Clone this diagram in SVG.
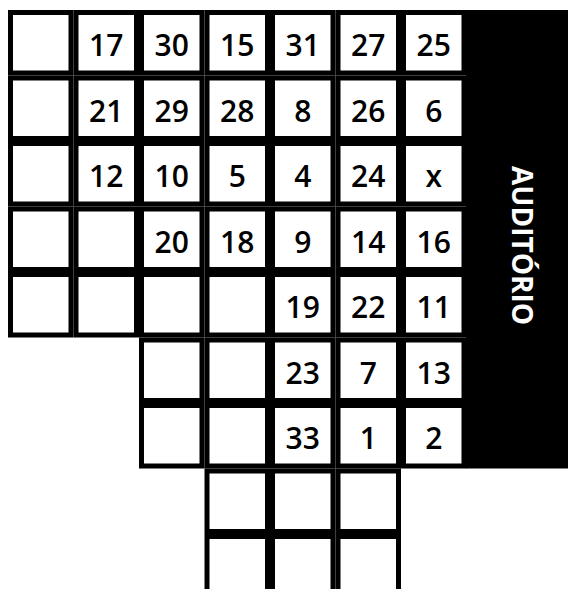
<svg xmlns="http://www.w3.org/2000/svg" width="568" height="589" viewBox="0 0 568 589">
<style>
.c{fill:#fff;stroke:#000;stroke-width:5}
.n{font-family:"Open Sans","Noto Sans",sans-serif;font-size:30px;font-weight:600;fill:#000;text-anchor:middle}
.a{font-family:"Open Sans","Noto Sans",sans-serif;font-size:28px;font-weight:700;fill:#fff;text-anchor:middle}
</style>
<rect x="0" y="0" width="568" height="589" fill="#fff"/>
<g id="auditorio">
<rect x="466" y="10" width="102" height="458.5" fill="#000"/>
<text class="a" transform="translate(512,245.5) rotate(90)">AUDITÓRIO</text>
</g>
<!-- row 0 -->
<g id="r0c0"><rect class="c" x="10.5" y="12.5" width="60.5" height="60.5"/></g>
<g id="r0c1"><rect class="c" x="76" y="12.5" width="60.5" height="60.5"/><text class="n" x="106.25" y="56">17</text></g>
<g id="r0c2"><rect class="c" x="141.5" y="12.5" width="60.5" height="60.5"/><text class="n" x="171.75" y="56">30</text></g>
<g id="r0c3"><rect class="c" x="207" y="12.5" width="60.5" height="60.5"/><text class="n" x="237.25" y="56">15</text></g>
<g id="r0c4"><rect class="c" x="272.5" y="12.5" width="60.5" height="60.5"/><text class="n" x="302.75" y="56">31</text></g>
<g id="r0c5"><rect class="c" x="338" y="12.5" width="60.5" height="60.5"/><text class="n" x="368.25" y="56">27</text></g>
<g id="r0c6"><rect class="c" x="403.5" y="12.5" width="60.5" height="60.5"/><text class="n" x="433.75" y="56">25</text></g>
<!-- row 1 -->
<g id="r1c0"><rect class="c" x="10.5" y="78" width="60.5" height="60.5"/></g>
<g id="r1c1"><rect class="c" x="76" y="78" width="60.5" height="60.5"/><text class="n" x="106.25" y="121.5">21</text></g>
<g id="r1c2"><rect class="c" x="141.5" y="78" width="60.5" height="60.5"/><text class="n" x="171.75" y="121.5">29</text></g>
<g id="r1c3"><rect class="c" x="207" y="78" width="60.5" height="60.5"/><text class="n" x="237.25" y="121.5">28</text></g>
<g id="r1c4"><rect class="c" x="272.5" y="78" width="60.5" height="60.5"/><text class="n" x="302.75" y="121.5">8</text></g>
<g id="r1c5"><rect class="c" x="338" y="78" width="60.5" height="60.5"/><text class="n" x="368.25" y="121.5">26</text></g>
<g id="r1c6"><rect class="c" x="403.5" y="78" width="60.5" height="60.5"/><text class="n" x="433.75" y="121.5">6</text></g>
<!-- row 2 -->
<g id="r2c0"><rect class="c" x="10.5" y="143.5" width="60.5" height="60.5"/></g>
<g id="r2c1"><rect class="c" x="76" y="143.5" width="60.5" height="60.5"/><text class="n" x="106.25" y="187">12</text></g>
<g id="r2c2"><rect class="c" x="141.5" y="143.5" width="60.5" height="60.5"/><text class="n" x="171.75" y="187">10</text></g>
<g id="r2c3"><rect class="c" x="207" y="143.5" width="60.5" height="60.5"/><text class="n" x="237.25" y="187">5</text></g>
<g id="r2c4"><rect class="c" x="272.5" y="143.5" width="60.5" height="60.5"/><text class="n" x="302.75" y="187">4</text></g>
<g id="r2c5"><rect class="c" x="338" y="143.5" width="60.5" height="60.5"/><text class="n" x="368.25" y="187">24</text></g>
<g id="r2c6"><rect class="c" x="403.5" y="143.5" width="60.5" height="60.5"/><text class="n" x="433.75" y="187">x</text></g>
<!-- row 3 -->
<g id="r3c0"><rect class="c" x="10.5" y="209" width="60.5" height="60.5"/></g>
<g id="r3c1"><rect class="c" x="76" y="209" width="60.5" height="60.5"/></g>
<g id="r3c2"><rect class="c" x="141.5" y="209" width="60.5" height="60.5"/><text class="n" x="171.75" y="252.5">20</text></g>
<g id="r3c3"><rect class="c" x="207" y="209" width="60.5" height="60.5"/><text class="n" x="237.25" y="252.5">18</text></g>
<g id="r3c4"><rect class="c" x="272.5" y="209" width="60.5" height="60.5"/><text class="n" x="302.75" y="252.5">9</text></g>
<g id="r3c5"><rect class="c" x="338" y="209" width="60.5" height="60.5"/><text class="n" x="368.25" y="252.5">14</text></g>
<g id="r3c6"><rect class="c" x="403.5" y="209" width="60.5" height="60.5"/><text class="n" x="433.75" y="252.5">16</text></g>
<!-- row 4 -->
<g id="r4c0"><rect class="c" x="10.5" y="274.5" width="60.5" height="60.5"/></g>
<g id="r4c1"><rect class="c" x="76" y="274.5" width="60.5" height="60.5"/></g>
<g id="r4c2"><rect class="c" x="141.5" y="274.5" width="60.5" height="60.5"/></g>
<g id="r4c3"><rect class="c" x="207" y="274.5" width="60.5" height="60.5"/></g>
<g id="r4c4"><rect class="c" x="272.5" y="274.5" width="60.5" height="60.5"/><text class="n" x="302.75" y="318">19</text></g>
<g id="r4c5"><rect class="c" x="338" y="274.5" width="60.5" height="60.5"/><text class="n" x="368.25" y="318">22</text></g>
<g id="r4c6"><rect class="c" x="403.5" y="274.5" width="60.5" height="60.5"/><text class="n" x="433.75" y="318">11</text></g>
<!-- row 5 -->
<g id="r5c2"><rect class="c" x="141.5" y="340" width="60.5" height="60.5"/></g>
<g id="r5c3"><rect class="c" x="207" y="340" width="60.5" height="60.5"/></g>
<g id="r5c4"><rect class="c" x="272.5" y="340" width="60.5" height="60.5"/><text class="n" x="302.75" y="383.5">23</text></g>
<g id="r5c5"><rect class="c" x="338" y="340" width="60.5" height="60.5"/><text class="n" x="368.25" y="383.5">7</text></g>
<g id="r5c6"><rect class="c" x="403.5" y="340" width="60.5" height="60.5"/><text class="n" x="433.75" y="383.5">13</text></g>
<!-- row 6 -->
<g id="r6c2"><rect class="c" x="141.5" y="405.5" width="60.5" height="60.5"/></g>
<g id="r6c3"><rect class="c" x="207" y="405.5" width="60.5" height="60.5"/></g>
<g id="r6c4"><rect class="c" x="272.5" y="405.5" width="60.5" height="60.5"/><text class="n" x="302.75" y="449">33</text></g>
<g id="r6c5"><rect class="c" x="338" y="405.5" width="60.5" height="60.5"/><text class="n" x="368.25" y="449">1</text></g>
<g id="r6c6"><rect class="c" x="403.5" y="405.5" width="60.5" height="60.5"/><text class="n" x="433.75" y="449">2</text></g>
<!-- row 7 -->
<g id="r7c3"><rect class="c" x="207" y="471" width="60.5" height="60.5"/></g>
<g id="r7c4"><rect class="c" x="272.5" y="471" width="60.5" height="60.5"/></g>
<g id="r7c5"><rect class="c" x="338" y="471" width="60.5" height="60.5"/></g>
<!-- row 8 -->
<g id="r8c3"><rect class="c" x="207" y="536.5" width="60.5" height="60.5"/></g>
<g id="r8c4"><rect class="c" x="272.5" y="536.5" width="60.5" height="60.5"/></g>
<g id="r8c5"><rect class="c" x="338" y="536.5" width="60.5" height="60.5"/></g>
</svg>
